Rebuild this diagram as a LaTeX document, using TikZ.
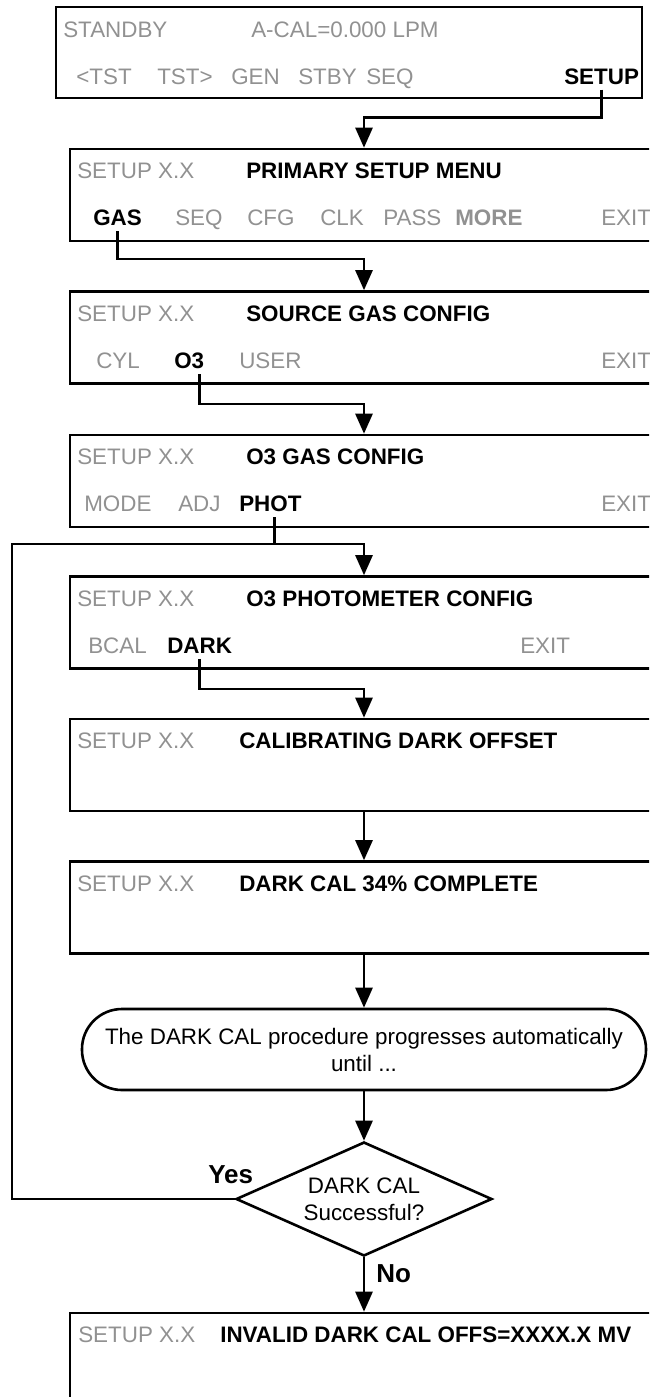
\documentclass[tikz,border=0pt]{standalone}
\usepackage{fontspec}
\setmainfont{Liberation Sans}
\usepackage{xcolor}
\usepackage{tikz}
\usetikzlibrary{positioning,calc,arrows.meta,shapes.geometric}

\definecolor{lcdgrey}{RGB}{145,145,145}
\newcommand{\lcdfont}{\fontsize{11.2}{13.5}\selectfont}

\begin{document}
\begin{tikzpicture}[x=0.5pt, y=-0.5pt, >={Triangle[length=10pt, width=8.5pt]}, line width=1.3pt, lcdbox/.style = {rectangle, draw, minimum width=294pt, minimum height=46pt, inner sep=0pt}, lcdkey/.style = {anchor=base west, inner xsep=0pt, inner ysep=2pt, font=\lcdfont, text=lcdgrey}, lcdhot/.style = {lcdkey, font=\lcdfont\bfseries, text=black}, procbox/.style = {rectangle, draw, rounded corners=20pt, minimum width=282pt, minimum height=40.5pt, align=center, font=\lcdfont}, askbox/.style = {diamond, draw, aspect=2.25, minimum width=128pt, minimum height=57pt, inner sep=0pt, align=center, font=\lcdfont}, yesno/.style = {anchor=base west, inner sep=0pt, font=\fontsize{13}{15}\selectfont\bfseries}]

\useasboundingbox (0,0) rectangle (649,1397);
\clip (0,0) rectangle (649,1397);

% screens
\node[lcdbox, minimum width=293pt, minimum height=45.5pt] (standby) at (349,52.5) {};
\node[lcdkey] (stbytitle) at (62,37) {STANDBY};
\node[lcdkey] (acal) at (250,37) {A-CAL=0.000 LPM};
\node[lcdkey] (tstl) at (75,84) {<TST};
\node[lcdkey] (tstr) at (156,84) {TST>};
\node[lcdkey] (gen) at (230,84) {GEN};
\node[lcdkey] (stby) at (297,84) {STBY};
\node[lcdkey] (seqa) at (365,84) {SEQ};
\node[lcdhot] (setupkey) at (563,84) {SETUP};

\node[lcdbox] (primary) at (364,195) {};
\node[lcdkey] (vera) at (76,178.5) {SETUP X.X};
\node[lcdhot] (primtitle) at (245,178.5) {PRIMARY SETUP MENU};
\node[lcdhot] (gaskey) at (92,225.5) {GAS};
\node[lcdkey] (seqb) at (174,225.5) {SEQ};
\node[lcdkey] (cfg) at (246,225.5) {CFG};
\node[lcdkey] (clk) at (319,225.5) {CLK};
\node[lcdkey] (pass) at (382,225.5) {PASS};
\node[lcdkey, font=\lcdfont\bfseries] (more) at (454,225.5) {MORE};
\node[lcdkey] (exita) at (600,225.5) {EXIT};

\node[lcdbox] (source) at (364,337.5) {};
\node[lcdkey] (verb) at (76,321.5) {SETUP X.X};
\node[lcdhot] (srctitle) at (245,321.5) {SOURCE GAS CONFIG};
\node[lcdkey] (cyl) at (95,368.5) {CYL};
\node[lcdhot] (othreekey) at (173,368.5) {O3};
\node[lcdkey] (user) at (238,368.5) {USER};
\node[lcdkey] (exitb) at (600,368.5) {EXIT};

\node[lcdbox] (othree) at (364,481) {};
\node[lcdkey] (verc) at (76,464.5) {SETUP X.X};
\node[lcdhot] (othreetitle) at (245,464.5) {O3 GAS CONFIG};
\node[lcdkey] (mode) at (83,511.5) {MODE};
\node[lcdkey] (adj) at (177,511.5) {ADJ};
\node[lcdhot] (photkey) at (238,511.5) {PHOT};
\node[lcdkey] (exitc) at (600,511.5) {EXIT};

\node[lcdbox] (photo) at (364,622.5) {};
\node[lcdkey] (verd) at (76,606.5) {SETUP X.X};
\node[lcdhot] (phototitle) at (245,606.5) {O3 PHOTOMETER CONFIG};
\node[lcdkey] (bcal) at (87,653.5) {BCAL};
\node[lcdhot] (darkkey) at (166,653.5) {DARK};
\node[lcdkey] (exitd) at (519,653.5) {EXIT};

\node[lcdbox] (calib) at (364,765) {};
\node[lcdkey] (vere) at (76,748.5) {SETUP X.X};
\node[lcdhot] (calibtitle) at (238,748.5) {CALIBRATING DARK OFFSET};

\node[lcdbox] (progress) at (364,907.5) {};
\node[lcdkey] (verf) at (76,891.5) {SETUP X.X};
\node[lcdhot] (progtitle) at (238,891.5) {DARK CAL 34\% COMPLETE};

% flow
\node[procbox] (note) at (364,1049.5) {The DARK CAL procedure progresses automatically\\until ...};
\node[askbox] (check) at (364,1199) {DARK CAL\\Successful?};
\node[yesno] (yes) at (207,1183) {Yes};
\node[yesno] (no) at (375,1282) {No};

\node[lcdbox] (invalid) at (364,1359) {};
\node[lcdkey] (verg) at (77,1342.5) {SETUP X.X};
\node[lcdhot] (invtitle) at (219,1342.5) {INVALID DARK CAL OFFS=XXXX.X MV};

\coordinate (loop) at (12,544);

\draw[->] (setupkey.south) -- ++(0,28) -| (primary.north);
\draw[->] (gaskey.south) -- ++(0,28) -| (source.north);
\draw[->] ([xshift=5pt]othreekey.south) -- ++(0,30) -| (othree.north);
\draw ([xshift=2pt]photkey.south) -- ([xshift=2pt]photkey.south |- loop);
\draw[->] (darkkey.south) -- ++(0,30) -| (calib.north);
\draw[->] (calib.south) -- (progress.north);
\draw[->] (progress.south) -- (note.north);
\draw[->] (note.south) -- (check.north);
\draw[->] (check.south) -- (invalid.north);
\draw[->] (check.west) -| (loop) -| (photo.north);

\end{tikzpicture}
\end{document}
